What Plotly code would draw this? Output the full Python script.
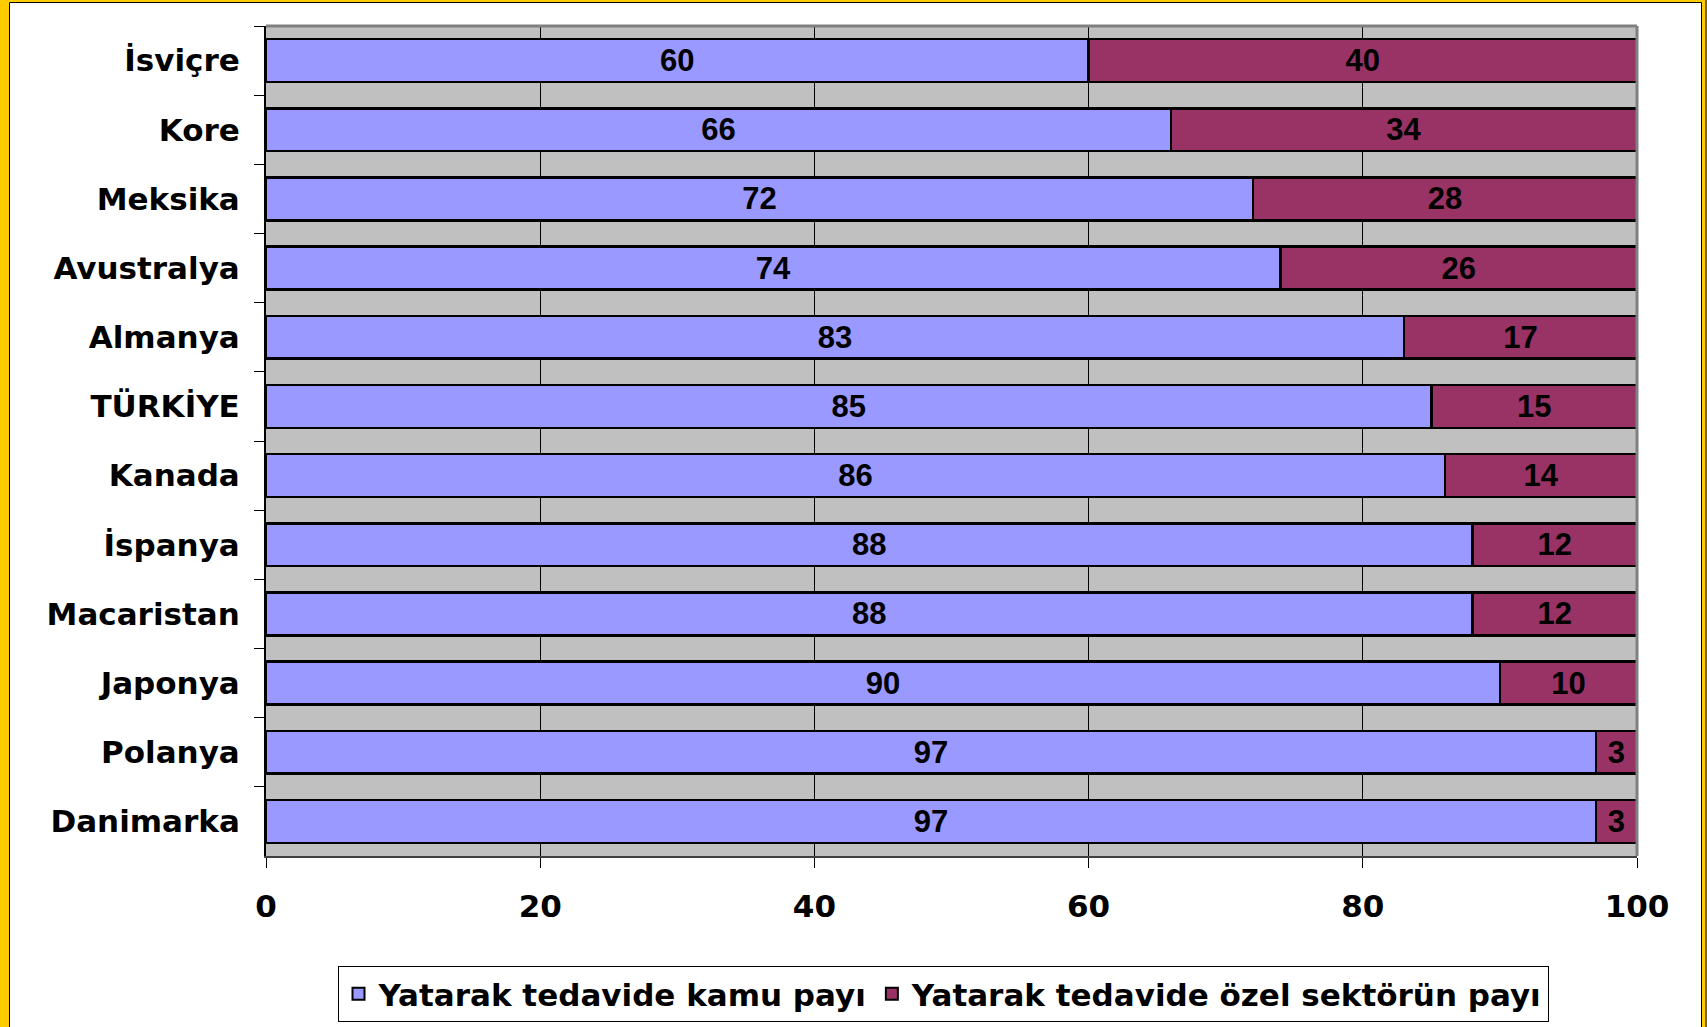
import plotly.graph_objects as go

countries = ["İsviçre", "Kore", "Meksika", "Avustralya", "Almanya", "TÜRKİYE",
             "Kanada", "İspanya", "Macaristan", "Japonya", "Polanya", "Danimarka"]
public_share = [60, 66, 72, 74, 83, 85, 86, 88, 88, 90, 97, 97]
private_share = [40, 34, 28, 26, 17, 15, 14, 12, 12, 10, 3, 3]
x_ticks = [0, 20, 40, 60, 80, 100]
series_names = ["Yatarak tedavide kamu payı", "Yatarak tedavide özel sektörün payı"]

W, H = 1707, 1027
L, R, T, B = 266, 1637, 26, 856
PW, PH = R - L, B - T


def px(x):
    return (x - L) / PW


def py(y):
    return (B - y) / PH


label_font = dict(family="Liberation Sans, Arial", size=31, color="black", weight="bold")

fig = go.Figure()
fig.add_trace(go.Bar(
    y=countries, x=public_share, orientation="h", name=series_names[0],
    marker=dict(color="#9999FF", line=dict(color="black", width=2.5)),
    text=[str(v) for v in public_share], textposition="inside",
    insidetextanchor="middle", textangle=0, textfont=label_font,
    constraintext="none",
))
fig.add_trace(go.Bar(
    y=countries, x=private_share, orientation="h", name=series_names[1],
    marker=dict(color="#993366", line=dict(color="black", width=2.5)),
    text=[str(v) for v in private_share], textposition="inside",
    insidetextanchor="middle", textangle=0, textfont=label_font,
    constraintext="none",
))

shapes = []
# plot frame top and right (gray)
shapes.append(dict(type="line", xref="paper", yref="paper", x0=0, x1=1, y0=1, y1=1,
                   line=dict(color="#808080", width=3), layer="above"))
shapes.append(dict(type="line", xref="paper", yref="paper", x0=1, x1=1, y0=0, y1=1,
                   line=dict(color="#808080", width=3), layer="above"))
# yellow page frame
yellow = "#FFCC00"
for (x0, y0, x1, y1) in [(0, 0, 9, H), (0, 0, W, 2), (1702, 0, W, H)]:
    shapes.append(dict(type="rect", xref="paper", yref="paper",
                       x0=px(x0), x1=px(x1), y0=py(y1), y1=py(y0),
                       fillcolor=yellow, line=dict(width=0), layer="above"))
shapes.append(dict(type="rect", xref="paper", yref="paper",
                   x0=px(9.5), x1=px(1701.5), y0=py(H + 5), y1=py(2.5),
                   fillcolor="rgba(0,0,0,0)", line=dict(color="black", width=1),
                   layer="above"))
shapes.append(dict(type="line", xref="paper", yref="paper",
                   x0=px(1706), x1=px(1706), y0=py(H), y1=py(0),
                   line=dict(color="black", width=1), layer="above"))

fig.update_layout(
    width=W, height=H,
    margin=dict(l=L, r=W - R, t=T, b=H - B, autoexpand=False),
    barmode="stack", bargap=0.38,
    plot_bgcolor="#C0C0C0", paper_bgcolor="white",
    showlegend=True,
    legend=dict(orientation="h", x=px(943), xanchor="center", y=py(966), yanchor="top",
                bordercolor="black", borderwidth=1, bgcolor="white",
                font=dict(family="DejaVu Sans", size=31, color="black", weight="bold"),
                traceorder="normal", itemsizing="constant"),
    xaxis=dict(range=[0, 100], tickvals=x_ticks, ticktext=[str(v) for v in x_ticks],
               showgrid=True, gridcolor="black", gridwidth=1, zeroline=False,
               showline=True, linecolor="#404040", linewidth=2,
               ticks="outside", ticklen=10, tickcolor="black", tickwidth=1,
               ticklabelstandoff=12,
               tickfont=dict(family="DejaVu Sans", size=31, color="black", weight="bold")),
    yaxis=dict(autorange="reversed", showgrid=False, zeroline=False,
               showline=True, linecolor="black", linewidth=2,
               ticks="outside", ticklen=10, tickcolor="black", tickwidth=1,
               tickson="boundaries", ticklabelstandoff=18,
               tickfont=dict(family="DejaVu Sans", size=31, color="black", weight="bold")),
    shapes=shapes,
)

fig.write_html(
    "out.html",
    config={"displayModeBar": False},
    post_script="document.body.style.margin='0';document.body.style.overflow='hidden';",
)
